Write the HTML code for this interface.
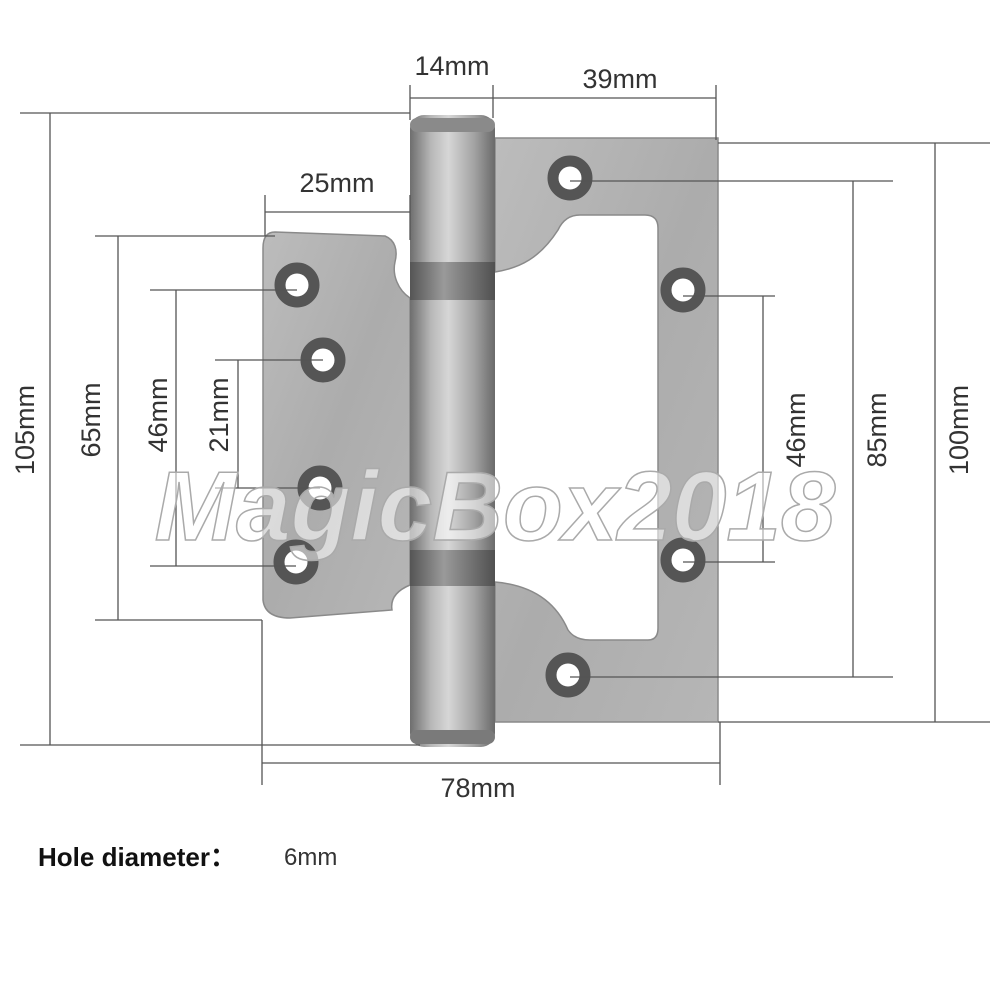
<!DOCTYPE html>
<html><head><meta charset="utf-8"><style>
html,body{margin:0;padding:0;background:#fff;}
svg{display:block}
.t{font-family:"Liberation Sans",sans-serif;font-size:27px;fill:#333;}
</style></head><body>
<svg width="1000" height="1000" viewBox="0 0 1000 1000" xmlns="http://www.w3.org/2000/svg">
<defs>
<linearGradient id="barrel" x1="0" x2="1" y1="0" y2="0">
<stop offset="0" stop-color="#6e6e6e"/><stop offset="0.25" stop-color="#b8b8b8"/><stop offset="0.45" stop-color="#d6d6d6"/><stop offset="0.75" stop-color="#a4a4a4"/><stop offset="1" stop-color="#6a6a6a"/>
</linearGradient>
<linearGradient id="band" x1="0" x2="1" y1="0" y2="0">
<stop offset="0" stop-color="#555"/><stop offset="0.4" stop-color="#9a9a9a"/><stop offset="1" stop-color="#505050"/>
</linearGradient>
<linearGradient id="leaf" x1="0" x2="1" y1="0" y2="1">
<stop offset="0" stop-color="#bcbcbc"/><stop offset="0.5" stop-color="#acacac"/><stop offset="1" stop-color="#b6b6b6"/>
</linearGradient>
</defs>

<path d="M495 138 L718 138 L718 722 L495 722 L495 582 C530 585 555 600 568 630 Q575 640 590 640 L648 640 Q658 640 658 628 L658 228 Q658 215 645 215 L580 215 Q565 215 558 230 C540 258 520 268 495 272 Z" fill="url(#leaf)" stroke="#8a8a8a" stroke-width="1.5"/>
<path d="M275 232 L385 236 C395 240 398 250 395 262 C392 275 398 290 410 298 L410 585 C398 590 390 598 392 610 L290 618 Q265 618 263 600 L263 248 Q263 232 275 232 Z" fill="url(#leaf)" stroke="#8a8a8a" stroke-width="1.5"/>
<rect x="410" y="115" width="85" height="632" rx="14" fill="url(#barrel)"/>
<rect x="410" y="262" width="85" height="38" fill="url(#band)"/>
<rect x="410" y="550" width="85" height="36" fill="url(#band)"/>
<rect x="410" y="118" width="85" height="14" rx="7" fill="#8a8a8a"/>
<rect x="410" y="730" width="85" height="14" rx="7" fill="#7a7a7a"/>

<g fill="#fff" stroke="#555" stroke-width="11">
<circle cx="570" cy="178" r="17"/><circle cx="683" cy="290" r="17"/>
<circle cx="683" cy="560" r="17"/><circle cx="568" cy="675" r="17"/>
<circle cx="297" cy="285" r="17"/><circle cx="323" cy="360" r="17"/>
<circle cx="320" cy="488" r="17"/><circle cx="296" cy="562" r="17"/>
</g>

<g stroke="#555" stroke-width="1.3" fill="none">
<line x1="20" y1="113" x2="410" y2="113"/><line x1="20" y1="745" x2="420" y2="745"/><line x1="50" y1="113" x2="50" y2="745"/>
<line x1="95" y1="236" x2="275" y2="236"/><line x1="95" y1="620" x2="262" y2="620"/><line x1="118" y1="236" x2="118" y2="620"/>
<line x1="150" y1="290" x2="297" y2="290"/><line x1="150" y1="566" x2="296" y2="566"/><line x1="176" y1="290" x2="176" y2="566"/>
<line x1="215" y1="360" x2="323" y2="360"/><line x1="215" y1="488" x2="320" y2="488"/><line x1="238" y1="360" x2="238" y2="488"/>
<line x1="265" y1="212" x2="410" y2="212"/><line x1="265" y1="195" x2="265" y2="236"/><line x1="410" y1="195" x2="410" y2="240"/>
<line x1="410" y1="98" x2="716" y2="98"/><line x1="410" y1="85" x2="410" y2="120"/><line x1="493" y1="85" x2="493" y2="118"/><line x1="716" y1="85" x2="716" y2="140"/>
<line x1="683" y1="296" x2="775" y2="296"/><line x1="683" y1="562" x2="775" y2="562"/><line x1="763" y1="296" x2="763" y2="562"/>
<line x1="570" y1="181" x2="893" y2="181"/><line x1="570" y1="677" x2="893" y2="677"/><line x1="853" y1="181" x2="853" y2="677"/>
<line x1="718" y1="143" x2="990" y2="143"/><line x1="718" y1="722" x2="990" y2="722"/><line x1="935" y1="143" x2="935" y2="722"/>
<line x1="262" y1="763" x2="720" y2="763"/><line x1="262" y1="620" x2="262" y2="785"/><line x1="720" y1="722" x2="720" y2="785"/>
</g>

<g class="t">
<text x="452" y="75" text-anchor="middle">14mm</text>
<text x="620" y="88" text-anchor="middle">39mm</text>
<text x="337" y="192" text-anchor="middle">25mm</text>
<text x="478" y="797" text-anchor="middle">78mm</text>
<text transform="translate(34,430) rotate(-90)" text-anchor="middle">105mm</text>
<text transform="translate(100,420) rotate(-90)" text-anchor="middle">65mm</text>
<text transform="translate(167,415) rotate(-90)" text-anchor="middle">46mm</text>
<text transform="translate(228,415) rotate(-90)" text-anchor="middle">21mm</text>
<text transform="translate(805,430) rotate(-90)" text-anchor="middle">46mm</text>
<text transform="translate(886,430) rotate(-90)" text-anchor="middle">85mm</text>
<text transform="translate(968,430) rotate(-90)" text-anchor="middle">100mm</text>
</g>

<text x="495" y="540" text-anchor="middle" font-family="Liberation Sans, sans-serif" font-style="italic" font-weight="bold" font-size="98" fill="#fff" fill-opacity="0.55" stroke="#aaa" stroke-width="1.5">MagicBox2018</text>

<text x="38" y="866" font-family="Liberation Sans, Noto Sans CJK SC, sans-serif" font-weight="bold" font-size="26" fill="#111">Hole diameter：</text>
<text x="284" y="865" font-family="Liberation Sans, sans-serif" font-size="24" fill="#333">6mm</text>
</svg>
</body></html>
